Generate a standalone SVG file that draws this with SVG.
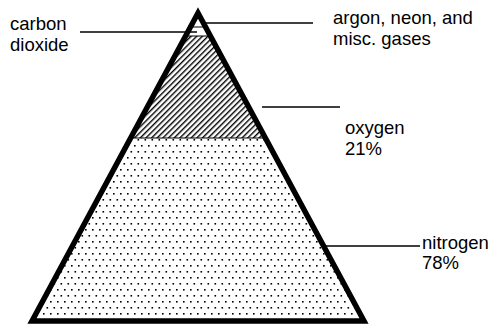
<svg xmlns="http://www.w3.org/2000/svg" width="504" height="325" viewBox="0 0 504 325">
  <style>
    .lbl { font-family: "Liberation Sans", Arial, sans-serif; font-size: 18.5px; fill: #000; }
    .lead { stroke: #000; stroke-width: 1.5; fill: none; }
    .thin { stroke: #000; stroke-width: 1.2; fill: none; }
  </style>
  <defs>
    <pattern id="hatch" patternUnits="userSpaceOnUse" width="4" height="4" patternTransform="rotate(45)">
      <rect x="0" y="0" width="1.4" height="4" fill="#000"/>
    </pattern>
    <pattern id="dots" patternUnits="userSpaceOnUse" width="7" height="12">
      <rect x="1" y="1" width="1.6" height="1.6" fill="#000"/>
      <rect x="4.5" y="7" width="1.6" height="1.6" fill="#000"/>
    </pattern>
    <clipPath id="tri">
      <polygon points="32,321 198,13 364,321"/>
    </clipPath>
  </defs>
  <rect width="504" height="325" fill="#fff"/>
  <g id="layers" clip-path="url(#tri)">
    <g id="nitrogen-layer"><rect x="0" y="138" width="504" height="190" fill="url(#dots)"/></g>
    <g id="oxygen-layer"><rect x="0" y="36" width="504" height="102" fill="url(#hatch)"/></g>
    <g id="boundaries">
      <line class="thin" x1="0" y1="27" x2="504" y2="27"/>
      <line class="thin" x1="0" y1="36" x2="504" y2="36"/>
      <line class="thin" x1="0" y1="138" x2="504" y2="138"/>
    </g>
  </g>
  <g id="pyramid">
    <polygon points="32,321 198,13 364,321" fill="none" stroke="#000" stroke-width="5.5" stroke-linejoin="miter" stroke-miterlimit="10"/>
  </g>
  <g id="connectors">
    <line class="lead" x1="80" y1="32" x2="197" y2="32"/>
    <line class="lead" x1="204" y1="23" x2="313" y2="23"/>
    <line class="lead" x1="262" y1="107" x2="340" y2="107"/>
    <line class="lead" x1="325" y1="246" x2="420" y2="246"/>
  </g>
  <g id="label-co2">
    <text class="lbl" x="10" y="30">carbon</text>
    <text class="lbl" x="10" y="51">dioxide</text>
  </g>
  <g id="label-argon">
    <text class="lbl" x="333" y="24">argon, neon, and</text>
    <text class="lbl" x="333" y="45">misc. gases</text>
  </g>
  <g id="label-oxygen">
    <text class="lbl" x="345" y="134">oxygen</text>
    <text class="lbl" x="345" y="155">21%</text>
  </g>
  <g id="label-nitrogen">
    <text class="lbl" x="422" y="249">nitrogen</text>
    <text class="lbl" x="422" y="269">78%</text>
  </g>
</svg>
